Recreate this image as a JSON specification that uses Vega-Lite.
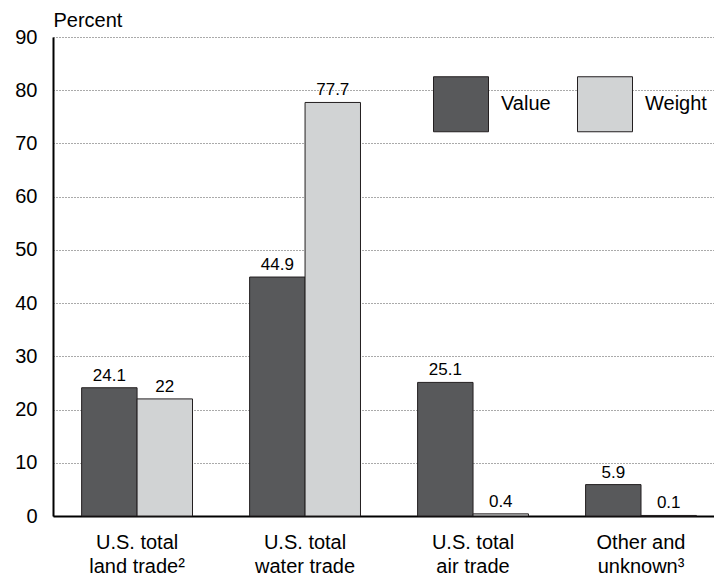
{
  "$schema": "https://vega.github.io/schema/vega-lite/v6.json",
  "width": 661,
  "height": 479,
  "autosize": {"type": "none"},
  "padding": {"left": 53, "top": 37, "right": 0, "bottom": 64},
  "config": {
    "view": {"stroke": null},
    "font": "Liberation Sans",
    "axis": {"labelFont": "Liberation Sans", "titleFont": "Liberation Sans", "labelColor": "#000", "titleColor": "#000"}
  },
  "data": {
    "values": [
      {"category": "U.S. total|land trade²", "series": "Value", "pct": 24.1},
      {"category": "U.S. total|land trade²", "series": "Weight", "pct": 22},
      {"category": "U.S. total|water trade", "series": "Value", "pct": 44.9},
      {"category": "U.S. total|water trade", "series": "Weight", "pct": 77.7},
      {"category": "U.S. total|air trade", "series": "Value", "pct": 25.1},
      {"category": "U.S. total|air trade", "series": "Weight", "pct": 0.4},
      {"category": "Other and|unknown³", "series": "Value", "pct": 5.9},
      {"category": "Other and|unknown³", "series": "Weight", "pct": 0.1}
    ]
  },
  "encoding": {
    "x": {
      "field": "category",
      "type": "nominal",
      "sort": null,
      "scale": {"paddingInner": 0.34, "paddingOuter": 0.1375, "align": 0.62},
      "axis": {
        "title": null,
        "labelAngle": 0,
        "labelExpr": "split(datum.label, '|')",
        "labelFontSize": 20,
        "labelLineHeight": 24,
        "labelPadding": 16,
        "labelBaseline": "top",
        "ticks": false,
        "domainColor": "#000",
        "domainWidth": 2,
        "grid": false
      }
    },
    "xOffset": {"field": "series", "type": "nominal", "scale": {"paddingInner": 0, "paddingOuter": 0}},
    "y": {
      "field": "pct",
      "type": "quantitative",
      "scale": {"domain": [0, 90], "nice": false},
      "axis": {
        "title": "Percent",
        "titleAngle": 0,
        "titleX": 0,
        "titleY": -11,
        "titleAlign": "left",
        "titleBaseline": "alphabetic",
        "titleFontSize": 20,
        "titleFontWeight": "normal",
        "titlePadding": 0,
        "values": [0, 10, 20, 30, 40, 50, 60, 70, 80, 90],
        "labelFontSize": 20,
        "labelPadding": 16,
        "ticks": false,
        "domainColor": "#000",
        "domainWidth": 2,
        "grid": true,
        "gridColor": "#555",
        "gridDash": [1, 2],
        "gridWidth": 1
      }
    }
  },
  "layer": [
    {
      "mark": {"type": "bar", "stroke": "#231f20", "strokeWidth": 1},
      "encoding": {
        "color": {
          "field": "series",
          "type": "nominal",
          "scale": {"domain": ["Value", "Weight"], "range": ["#58595b", "#d1d3d4"]},
          "legend": {
            "title": null,
            "orient": "none",
            "legendX": 380,
            "legendY": 39,
            "direction": "horizontal",
            "symbolType": "square",
            "symbolSize": 3025,
            "symbolStrokeColor": "#231f20",
            "symbolStrokeWidth": 1,
            "symbolOpacity": 1,
            "labelFontSize": 20,
            "labelFont": "Liberation Sans",
            "labelColor": "#000",
            "labelOffset": 12,
            "columnPadding": 24,
            "padding": 0
          }
        }
      }
    },
    {
      "mark": {"type": "text", "fontSize": 17, "dy": -7, "baseline": "alphabetic", "color": "#000"},
      "encoding": {
        "text": {"field": "pct", "type": "quantitative"}
      }
    }
  ]
}
